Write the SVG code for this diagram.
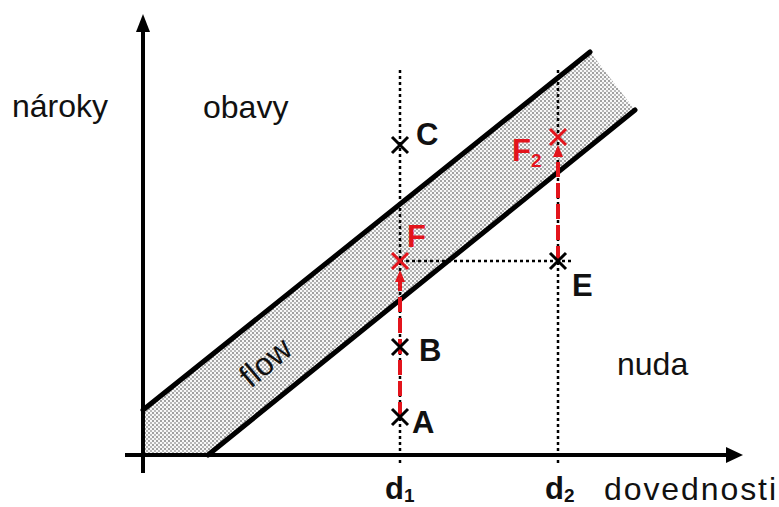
<svg xmlns="http://www.w3.org/2000/svg" width="779" height="507" viewBox="0 0 779 507">
<style>
.ax{stroke:#000;stroke-width:4;fill:none}
.band{stroke:#000;stroke-width:5;fill:none;stroke-linecap:round}
.dot{stroke:#000;stroke-width:2.5;stroke-dasharray:3,3;fill:none}
.cx{stroke:#000;stroke-width:3;fill:none}
.cr{stroke:#e3141c;stroke-width:3;fill:none}
.rd{stroke:#e3141c;stroke-width:4;stroke-dasharray:15,6;fill:none}
.t{font-family:"Liberation Sans",Arial,sans-serif;font-size:32px;fill:#111}
.b{font-family:"Liberation Sans",Arial,sans-serif;font-size:31px;font-weight:bold;fill:#111}
.rb{font-family:"Liberation Sans",Arial,sans-serif;font-size:31px;font-weight:bold;fill:#e3141c}
.sub{font-size:19px}
</style>
<defs>
<pattern id="stip" width="4" height="4" patternUnits="userSpaceOnUse">
<rect width="4" height="4" fill="#f8f8f8"/>
<circle cx="1" cy="1" r="0.8" fill="#333"/>
<circle cx="3" cy="3" r="0.8" fill="#666"/>
</pattern>
<marker id="ah" markerWidth="12" markerHeight="10" refX="2" refY="5" orient="auto" markerUnits="userSpaceOnUse">
<path d="M0,0 L12,5 L0,10 z" fill="#e3141c"/>
</marker>
</defs>
<rect width="779" height="507" fill="#fff"/>
<g id="flow-band">
<polygon points="143,410 590,52 635,110 208,455 143,455" fill="url(#stip)"/>
<line class="band" x1="143" y1="410" x2="590" y2="52"/>
<line class="band" x1="208" y1="455" x2="635" y2="110"/>
<text class="t" transform="translate(266,363) rotate(-40)" text-anchor="middle" y="10" font-size="31">flow</text>
</g>
<g id="axes">
<line class="ax" x1="143" y1="473" x2="143" y2="30"/>
<polygon points="143,14 136,32 150,32" fill="#000"/>
<line class="ax" x1="125" y1="455" x2="728" y2="455"/>
<polygon points="743,455 726,447 726,463" fill="#000"/>
</g>
<g id="connectors">
<line class="dot" x1="400" y1="70" x2="400" y2="465"/>
<line class="dot" x1="558" y1="70" x2="558" y2="465"/>
<line class="dot" x1="400" y1="261" x2="573" y2="261"/>
<line class="rd" x1="400" y1="417" x2="400" y2="280" marker-end="url(#ah)"/>
<line class="rd" x1="558" y1="261" x2="558" y2="155" marker-end="url(#ah)"/>
</g>
<g id="C"><path class="cx" d="M392,137 L408,153 M408,137 L392,153"/><text class="b" x="416" y="145">C</text></g>
<g id="B"><path class="cx" d="M392,339 L408,355 M408,339 L392,355"/><text class="b" x="419" y="361">B</text></g>
<g id="A"><path class="cx" d="M392,409 L408,425 M408,409 L392,425"/><text class="b" x="412" y="433">A</text></g>
<g id="E"><path class="cx" d="M550,253 L566,269 M566,253 L550,269"/><text class="b" x="572" y="296">E</text></g>
<g id="F"><path class="cr" d="M392,253 L408,269 M408,253 L392,269"/><text class="rb" x="407" y="247">F</text></g>
<g id="F2"><path class="cr" d="M550,129 L566,145 M566,129 L550,145"/><text class="rb" x="512" y="161">F<tspan class="sub" dy="6">2</tspan></text></g>
<g id="labels">
<text class="t" x="12" y="117">nároky</text>
<text class="t" x="203" y="118">obavy</text>
<text class="t" x="617" y="375">nuda</text>
<text class="t" x="604" y="500" font-size="31" textLength="172">dovednosti</text>
<text class="b" x="385" y="499">d<tspan class="sub" dy="3">1</tspan></text>
<text class="b" x="545" y="499">d<tspan class="sub" dy="3">2</tspan></text>
</g>
</svg>
